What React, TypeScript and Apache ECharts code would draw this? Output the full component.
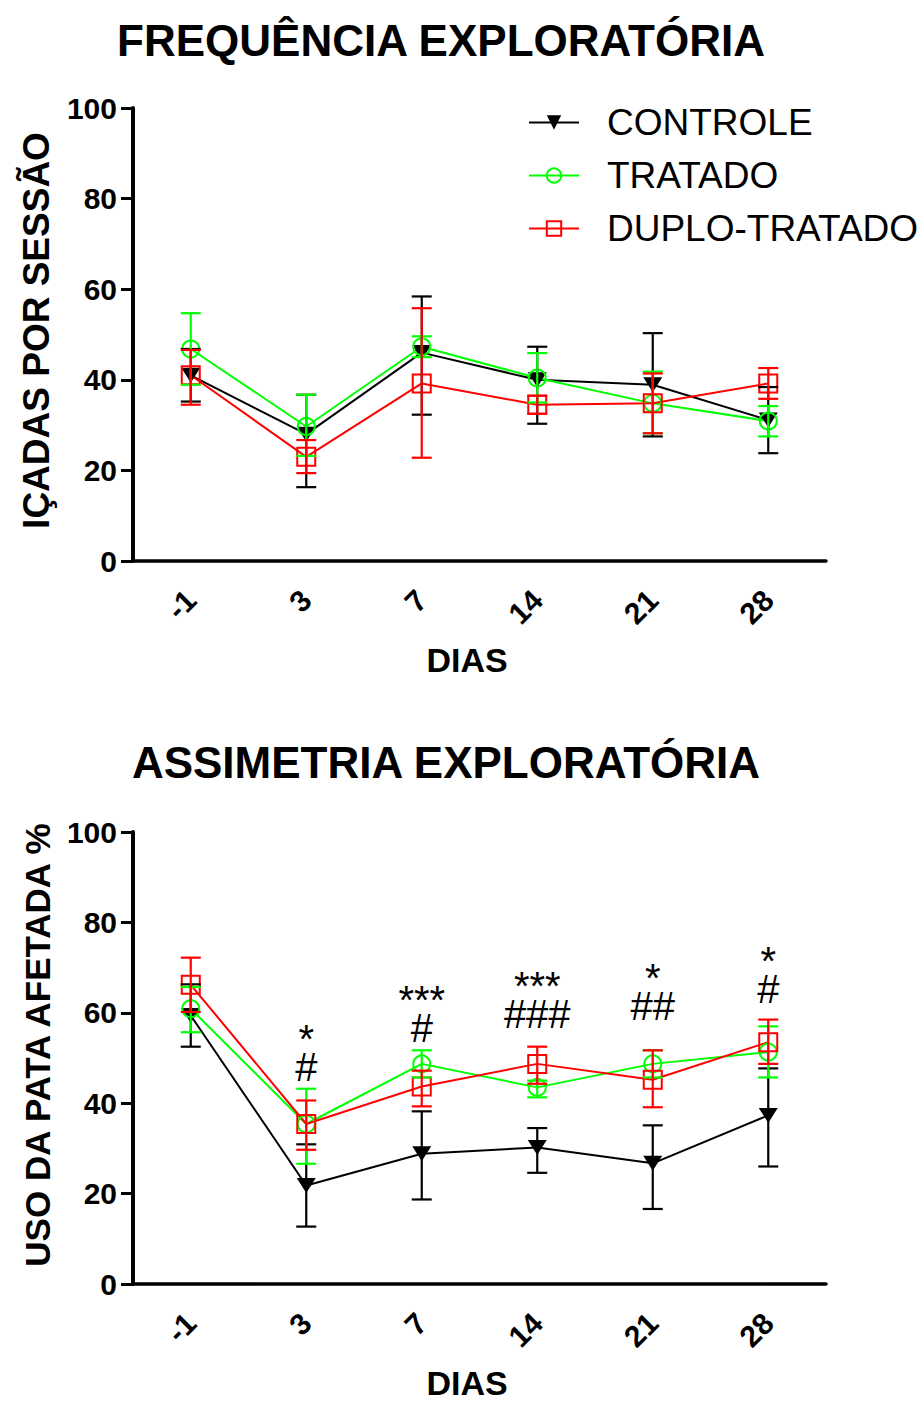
import React, { useEffect, useRef } from 'react';
import * as echarts from 'echarts';

const days = ['-1', '3', '7', '14', '21', '28'];
const seriesNames = ['CONTROLE', 'TRATADO', 'DUPLO-TRATADO'];
const seriesColors = ['#000000', '#00ff00', '#ff0000'];

// FREQUÊNCIA EXPLORATÓRIA (IÇADAS POR SESSÃO)
const freqControle = [41.0, 28.0, 46.0, 40.0, 38.9, 31.1];
const freqControleLow = [35.2, 16.3, 32.3, 30.3, 27.5, 23.8];
const freqControleHigh = [46.8, 36.7, 58.4, 47.3, 50.3, 38.4];
const freqTratado = [46.8, 29.7, 47.3, 40.4, 34.8, 30.9];
const freqTratadoLow = [38.9, 23.2, 45.0, 35.0, 28.2, 27.5];
const freqTratadoHigh = [54.7, 36.7, 49.6, 45.9, 41.8, 34.2];
const freqDuplo = [41.0, 23.0, 39.2, 34.5, 34.8, 39.2];
const freqDuploLow = [34.5, 19.4, 22.8, 32.5, 28.2, 35.8];
const freqDuploHigh = [46.6, 26.7, 55.8, 36.5, 41.4, 42.6];

// ASSIMETRIA EXPLORATÓRIA (USO DA PATA AFETADA %)
const assimControle = [59.4, 21.8, 28.8, 30.2, 26.7, 37.3];
const assimControleLow = [52.5, 12.7, 18.7, 24.6, 16.6, 26.0];
const assimControleHigh = [66.3, 30.9, 38.2, 34.5, 35.1, 47.7];
const assimTratado = [60.9, 35.4, 48.7, 43.5, 48.7, 51.3];
const assimTratadoLow = [55.7, 26.6, 45.7, 41.3, 45.7, 45.7];
const assimTratadoHigh = [65.7, 43.2, 51.7, 45.0, 51.7, 57.0];
const assimDuplo = [66.2, 35.4, 43.7, 48.7, 45.2, 53.5];
const assimDuploLow = [60.2, 29.7, 39.3, 44.3, 39.1, 48.7];
const assimDuploHigh = [72.2, 40.6, 47.2, 52.5, 51.7, 58.5];

// significance marks (bottom chart): star line above hash line
const starText = ['', '*', '***', '***', '*', '*'];
const hashText = ['', '#', '#', '###', '##', '#'];
const markY = [0, 51.1, 59.8, 62.9, 64.6, 68.3];

const FONT = 'Liberation Sans, Arial, sans-serif';

const symbols = ['path://M0,0 L20,0 L10,16 Z', 'circle', 'rect'];
const symbolSizes: any[] = [[19, 15], 17, 18];

function errRender(color: string) {
  return (params: any, api: any) => {
    const i = api.value(0);
    const lo = api.coord([i, api.value(1)]);
    const hi = api.coord([i, api.value(2)]);
    const w = 10;
    const style = { stroke: color, lineWidth: 2.2 };
    return {
      type: 'group',
      children: [
        { type: 'line', shape: { x1: lo[0], y1: lo[1], x2: hi[0], y2: hi[1] }, style },
        { type: 'line', shape: { x1: hi[0] - w, y1: hi[1], x2: hi[0] + w, y2: hi[1] }, style },
        { type: 'line', shape: { x1: lo[0] - w, y1: lo[1], x2: lo[0] + w, y2: lo[1] }, style },
      ],
    };
  };
}

function makeSeries(gridIdx: number, means: number[][], lows: number[][], highs: number[][]) {
  const out: any[] = [];
  for (let s = 0; s < 3; s++) {
    const color = seriesColors[s];
    out.push({
      type: 'line',
      name: seriesNames[s],
      xAxisIndex: gridIdx,
      yAxisIndex: gridIdx,
      data: means[s],
      symbol: symbols[s],
      symbolSize: symbolSizes[s],
      showAllSymbol: true,
      z: 2,
      lineStyle: { color, width: 2 },
      itemStyle:
        s === 0
          ? { color: '#000000', borderWidth: 0 }
          : { color: 'rgba(255,255,255,0)', borderColor: color, borderWidth: 2 },
      emphasis: { disabled: true },
    });
  }
  for (let s = 0; s < 3; s++) {
    out.push({
      type: 'custom',
      name: 'err-' + gridIdx + '-' + s,
      xAxisIndex: gridIdx,
      yAxisIndex: gridIdx,
      z: 3,
      renderItem: errRender(seriesColors[s]),
      encode: { x: 0, y: [1, 2] },
      data: lows[s].map((lo, i) => [i, lo, highs[s][i]]),
    });
  }
  return out;
}

function marksSeries() {
  const data: any[] = [];
  const texts: string[] = [];
  starText.forEach((t, i) => {
    if (t || hashText[i]) {
      data.push([i, markY[i]]);
      texts.push(t + '\n' + hashText[i]);
    }
  });
  return {
    type: 'custom',
    name: 'marks',
    xAxisIndex: 1,
    yAxisIndex: 1,
    z: 5,
    encode: { x: 0, y: 1 },
    data,
    renderItem: (params: any, api: any) => {
      const p = api.coord([api.value(0), api.value(1)]);
      return {
        type: 'text',
        x: p[0],
        y: p[1],
        style: {
          text: texts[params.dataIndex],
          fill: '#000',
          fontSize: 40,
          lineHeight: 28,
          fontFamily: FONT,
          align: 'center',
          verticalAlign: 'middle',
        },
      };
    },
  };
}

function xAxis(gridIndex: number) {
  return {
    type: 'category',
    gridIndex,
    data: days,
    boundaryGap: true,
    name: 'DIAS',
    nameLocation: 'middle',
    nameGap: 82,
    nameTextStyle: { fontSize: 34, fontWeight: 'bold', color: '#000', fontFamily: FONT, padding: [0, 25, 0, 0] },
    axisLine: { lineStyle: { color: '#000', width: 3.5 } },
    axisTick: { alignWithLabel: true, length: 12, lineStyle: { color: '#000', width: 3 } },
    axisLabel: { rotate: 45, fontSize: 30, fontWeight: 'bold', color: '#000', fontFamily: FONT, margin: 34 },
    splitLine: { show: false },
  };
}

function yAxis(gridIndex: number, name: string, size: number, pad: number[]) {
  return {
    type: 'value',
    gridIndex,
    min: 0,
    max: 100,
    interval: 20,
    name,
    nameLocation: 'middle',
    nameGap: 78,
    nameTextStyle: { fontSize: size, fontWeight: 'bold', color: '#000', fontFamily: FONT, padding: pad },
    axisLine: { show: true, lineStyle: { color: '#000', width: 4 } },
    axisTick: { show: true, length: 12, lineStyle: { color: '#000', width: 3 } },
    axisLabel: { fontSize: 30, fontWeight: 'bold', color: '#000', fontFamily: FONT, margin: 16 },
    splitLine: { show: false },
  };
}

export default function App() {
  const ref = useRef<HTMLDivElement>(null);
  useEffect(() => {
    if (!ref.current) return;
    const chart = echarts.init(ref.current, undefined, { renderer: 'svg' });
    const option: any = {
      animation: false,
      backgroundColor: '#ffffff',
      textStyle: { fontFamily: FONT },
      title: [
        {
          text: 'FREQUÊNCIA EXPLORATÓRIA',
          left: 441,
          top: 18,
          textAlign: 'center',
          padding: 0,
          textStyle: { fontSize: 44, fontWeight: 'bold', color: '#000', fontFamily: FONT },
        },
        {
          text: 'ASSIMETRIA EXPLORATÓRIA',
          left: 446,
          top: 740,
          textAlign: 'center',
          padding: 0,
          textStyle: { fontSize: 44, fontWeight: 'bold', color: '#000', fontFamily: FONT },
        },
      ],
      legend: {
        data: seriesNames,
        orient: 'vertical',
        left: 528,
        top: 104,
        padding: 0,
        itemWidth: 50,
        itemHeight: 18,
        itemGap: 16,
        selectedMode: false,
        textStyle: { fontSize: 37, color: '#000', fontFamily: FONT, padding: [0, 0, 0, 23] },
      },
      grid: [
        { left: 133, top: 108, width: 693, height: 453 },
        { left: 133, top: 832, width: 693, height: 452 },
      ],
      xAxis: [xAxis(0), xAxis(1)],
      yAxis: [
        yAxis(0, 'IÇADAS POR SESSÃO', 37, [0, 0, 0, 8]),
        yAxis(1, 'USO DA PATA AFETADA %', 35, [0, 0, 0, 26]),
      ],
      series: [
        ...makeSeries(
          0,
          [freqControle, freqTratado, freqDuplo],
          [freqControleLow, freqTratadoLow, freqDuploLow],
          [freqControleHigh, freqTratadoHigh, freqDuploHigh]
        ),
        ...makeSeries(
          1,
          [assimControle, assimTratado, assimDuplo],
          [assimControleLow, assimTratadoLow, assimDuploLow],
          [assimControleHigh, assimTratadoHigh, assimDuploHigh]
        ),
        marksSeries(),
      ],
    };
    chart.setOption(option);
    return () => chart.dispose();
  }, []);
  return (
    <div
      ref={ref}
      style={{ position: 'absolute', left: 0, top: 0, width: 924, height: 1401, background: '#fff' }}
    />
  );
}
